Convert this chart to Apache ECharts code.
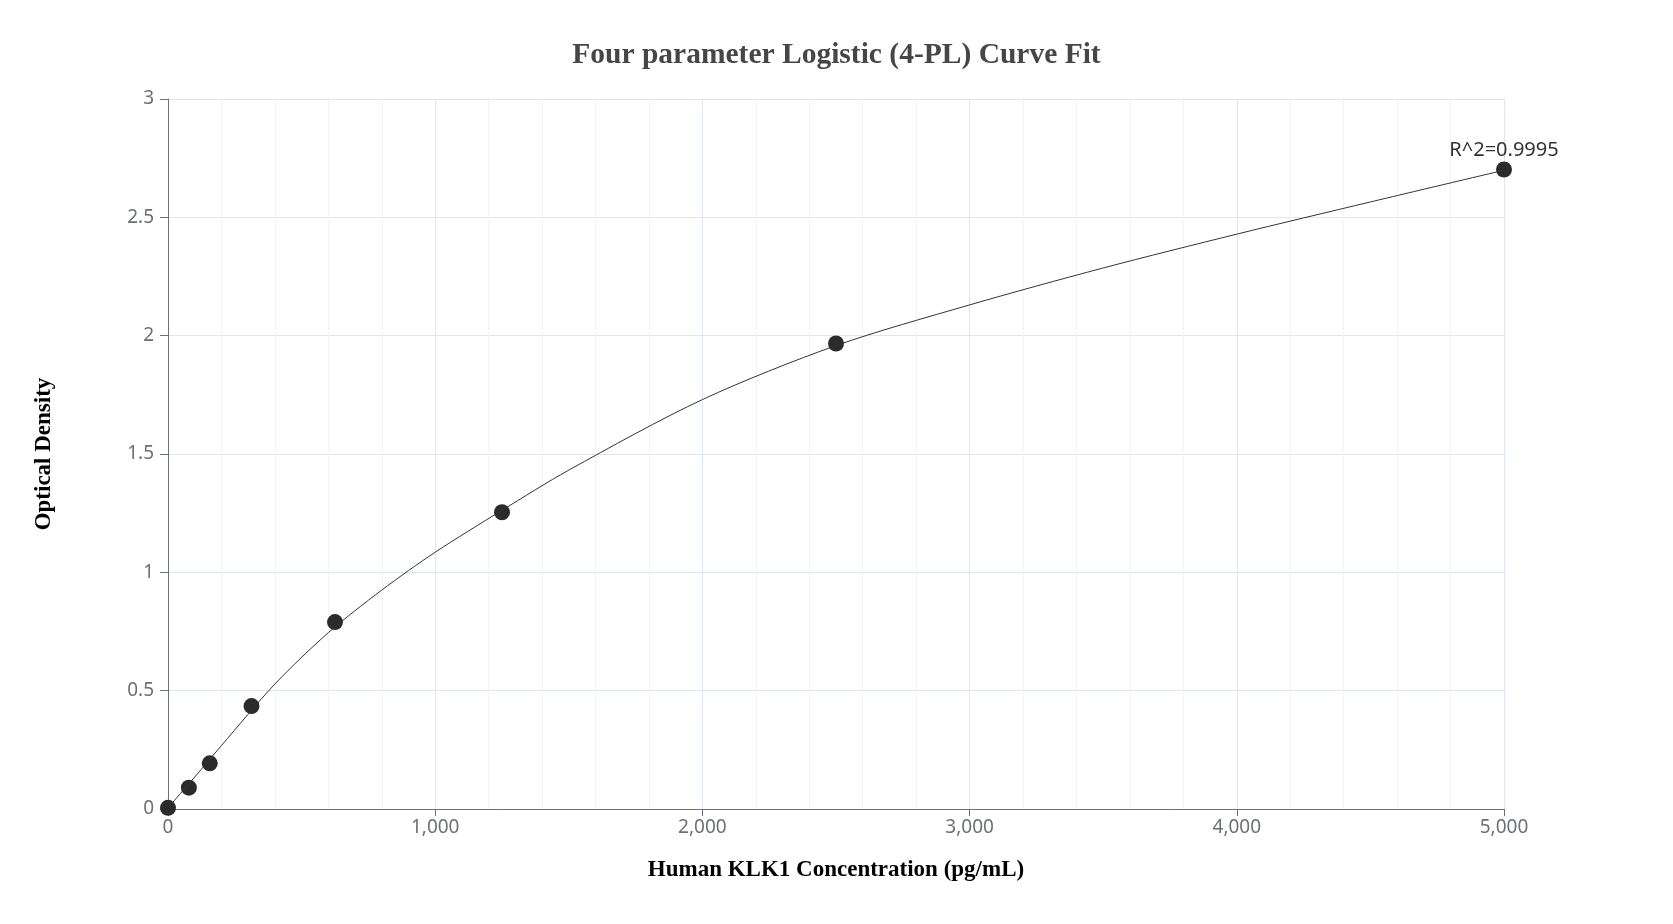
<!DOCTYPE html>
<html>
<head>
<meta charset="utf-8">
<title>4-PL Curve Fit</title>
<script src="https://cdn.jsdelivr.net/npm/echarts@6/dist/echarts.min.js"></script>
<style>
  html, body { margin: 0; padding: 0; background: #fff; }
  #chart { width: 1673px; height: 924px; }
</style>
</head>
<body>
<div id="chart"></div>
<script>
const concentrations = [0, 78.125, 156.25, 312.5, 625, 1250, 2500, 5000];
const odValues = [0.005, 0.09, 0.193, 0.435, 0.79, 1.254, 1.967, 2.702];

// fitted 4-PL curve at these concentrations
const curveX = [0, 100, 200, 400, 600, 800, 1000, 1250, 1500, 2000, 2500, 3000, 3500, 4000, 4500, 5000];
const curveY = [0.005, 0.135, 0.268, 0.528, 0.745, 0.925, 1.085, 1.262, 1.432, 1.73, 1.958, 2.13, 2.286, 2.429, 2.565, 2.699];

const fitLabel = 'R^2=0.9995';

const xTicks = { min: 0, max: 5000, step: 1000 };
const yTicks = { min: 0, max: 3, step: 0.5 };

const points = concentrations.map((c, i) => [c, odValues[i]]);
const curve = curveX.map((c, i) => [c, curveY[i]]);

const chart = echarts.init(document.getElementById('chart'));

const axisGrey = '#6E7079';
const tickFont = 'Noto Sans';

chart.setOption({
    animation: false,
    title: {
        text: 'Four parameter Logistic (4-PL) Curve Fit',
        left: 'center',
        top: 35,
        textStyle: {
            fontFamily: 'Liberation Serif',
            fontWeight: 'bold',
            fontSize: 29.5,
            color: '#464646'
        }
    },
    grid: { left: 168, right: 169, top: 99, bottom: 115 },
    xAxis: {
        type: 'value',
        min: xTicks.min,
        max: xTicks.max,
        interval: xTicks.step,
        name: 'Human KLK1 Concentration (pg/mL)',
        nameLocation: 'middle',
        nameGap: 50,
        nameTextStyle: {
            fontFamily: 'Liberation Serif',
            fontWeight: 'bold',
            fontSize: 23,
            color: '#000'
        },
        axisLine: { show: true, lineStyle: { color: axisGrey } },
        axisTick: { show: true, length: 7, lineStyle: { color: axisGrey } },
        axisLabel: { color: axisGrey, fontSize: 19, fontFamily: tickFont, margin: 9 },
        splitLine: { show: true, lineStyle: { color: '#E0E6F1' } },
        minorSplitLine: { show: true, lineStyle: { color: '#F2F4F9' } }
    },
    yAxis: {
        type: 'value',
        min: yTicks.min,
        max: yTicks.max,
        interval: yTicks.step,
        name: 'Optical Density',
        nameLocation: 'middle',
        nameGap: 112,
        nameTextStyle: {
            fontFamily: 'Liberation Serif',
            fontWeight: 'bold',
            fontSize: 23,
            color: '#000'
        },
        axisLine: { show: true, lineStyle: { color: axisGrey } },
        axisTick: { show: true, length: 8, lineStyle: { color: axisGrey } },
        axisLabel: { color: axisGrey, fontSize: 19, fontFamily: tickFont, margin: 14 },
        splitLine: { show: true, lineStyle: { color: '#E0E6F1' } }
    },
    series: [
        {
            // fit curve
            type: 'line',
            data: curve,
            smooth: 0.3,
            showSymbol: false,
            lineStyle: { color: '#333', width: 1 },
            z: 3
        },
        {
            type: 'scatter',
            data: points,
            symbolSize: 16,
            itemStyle: { color: '#2b2b2b', opacity: 1 },
            label: {
                show: true,
                position: 'top',
                distance: 1,
                color: '#333',
                fontFamily: tickFont,
                fontSize: 20,
                formatter: p => (p.dataIndex === points.length - 1 ? fitLabel : '')
            },
            z: 2
        }
    ]
});
</script>
</body>
</html>
